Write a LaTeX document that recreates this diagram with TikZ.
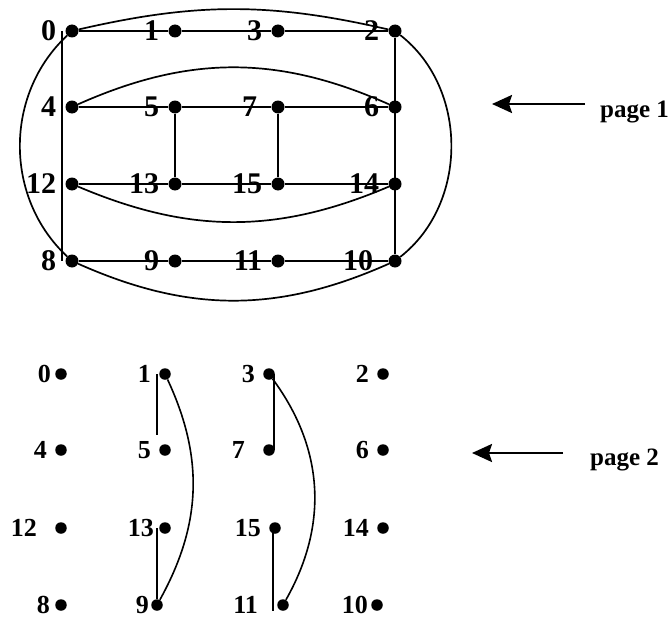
\documentclass[tikz,border=0pt]{standalone}
\usepackage{fontspec}
\setmainfont{Liberation Serif}
\usetikzlibrary{positioning,arrows.meta}

\tikzset{
  dot/.style={circle,fill,inner sep=0pt,minimum size=13pt},
  sdot/.style={circle,fill,inner sep=0pt,minimum size=11.5pt},
  num/.style={inner sep=0pt,xshift=-9pt,font=\fontsize{30}{32}\selectfont\bfseries},
  snum/.style={inner sep=0pt,xshift=-8pt,font=\fontsize{26}{28}\selectfont\bfseries},
  page/.style={inner sep=0pt,anchor=base west,font=\fontsize{25}{27}\selectfont\bfseries},
  wire/.style={line width=2pt},
  arc/.style={line width=1.7pt},
  swire/.style={line width=1.6pt},
  ptr/.style={line width=2.5pt,-{Stealth[length=20pt,width=18pt,inset=3pt]}}
}

\begin{document}
\begin{tikzpicture}[on grid,node distance=77pt]
  \useasboundingbox (0,0) rectangle (672pt,-618pt);

  \node[dot,label={[num]left:0}] (a0) at (72pt,-31pt) {};
  \node[dot,label={[num]left:1}] (a1) [right=103pt of a0] {};
  \node[dot,label={[num]left:3}] (a3) [right=103pt of a1] {};
  \node[dot,label={[num]left:2}] (a2) [right=117pt of a3] {};
  \node[dot,label={[num]left:4}] (a4) [below=76pt of a0] {};
  \node[dot,label={[num]left:5}] (a5) [below=76pt of a1] {};
  \node[dot,label={[num,xshift=-5pt]left:7}] (a7) [below=76pt of a3] {};
  \node[dot,label={[num]left:6}] (a6) [below=76pt of a2] {};
  \node[dot,label={[num]left:12}] (a12) [below=of a4] {};
  \node[dot,label={[num]left:13}] (a13) [below=of a5] {};
  \node[dot,label={[num]left:15}] (a15) [below=of a7] {};
  \node[dot,label={[num]left:14}] (a14) [below=of a6] {};
  \node[dot,label={[num]left:8}] (a8) [below=of a12] {};
  \node[dot,label={[num]left:9}] (a9) [below=of a13] {};
  \node[dot,label={[num]left:11}] (a11) [below=of a15] {};
  \node[dot,label={[num,xshift=-6pt]left:10}] (a10) [below=of a14] {};

  \draw[wire] (a0) -- (a1) -- (a3) -- (a2)
              (a4) -- (a5) -- (a7) -- (a6)
              (a12) -- (a13) -- (a15) -- (a14)
              (a8) -- (a9) -- (a11) -- (a10);
  \draw[wire] ([xshift=-3pt]a0.west) -- ([xshift=-3pt]a8.west)
              (a2) -- (a10)
              (a5) -- (a13)
              (a7) -- (a15);
  \draw[arc] (a0) to[bend left=13] (a2)
             (a4) to[bend left=24] (a6)
             (a12) to[bend right=23] (a14)
             (a8) to[bend right=24] (a10)
             (a0) to[bend right=47] (a8)
             (a2) to[bend left=52] (a10);

  \node[page] (pg1) at (600pt,-117pt) {page 1};
  \coordinate (tip1) at (492pt,-104pt);
  \draw[ptr] ([xshift=-15pt,yshift=13pt]pg1.base west) -- (tip1);

  \node[sdot,label={[snum,xshift=4pt]left:0}] (b0) at (61pt,-374pt) {};
  \node[sdot,label={[snum]left:1}] (b1) [right=104pt of b0] {};
  \node[sdot,label={[snum]left:3}] (b3) [right=104pt of b1] {};
  \node[sdot,label={[snum]left:2}] (b2) [right=114pt of b3] {};
  \node[sdot,label={[snum]left:4}] (b4) [below=76pt of b0] {};
  \node[sdot,label={[snum]left:5}] (b5) [below=76pt of b1] {};
  \node[sdot,label={[snum,xshift=-10pt]left:7}] (b7) [below=76pt of b3] {};
  \node[sdot,label={[snum]left:6}] (b6) [below=76pt of b2] {};
  \node[sdot,label={[snum,xshift=-10pt]left:12}] (b12) [below=78pt of b4] {};
  \node[sdot,label={[snum,xshift=3pt]left:13}] (b13) [below=78pt of b5] {};
  \node[sdot,label={[snum]left:15}] (b15) [below=78pt of b7,xshift=6pt] {};
  \node[sdot,label={[snum]left:14}] (b14) [below=78pt of b6] {};
  \node[sdot,label={[snum,xshift=3pt]left:8}] (b8) [below=of b12] {};
  \node[sdot,label={[snum,xshift=6pt]left:9}] (b9) [below=of b13,xshift=-8pt] {};
  \node[sdot,label={[snum,xshift=-11pt]left:11}] (b11) [below=of b15,xshift=8pt] {};
  \node[sdot,label={[snum,xshift=5pt]left:10}] (b10) [below=of b14,xshift=-6pt] {};

  \draw[swire] ([xshift=-8pt]b1.center) -- ([xshift=-8pt,yshift=15pt]b5.center)
               ([xshift=-8pt]b13.center) -- (b9.north)
               ([xshift=5pt]b3.center) -- ([xshift=5pt]b7.center)
               ([xshift=-2pt]b15.center) -- ([xshift=-10pt]b11.south);
  \draw[swire] (b1) to[bend left=27] (b9)
               (b3) to[bend left=33] (b11);

  \node[page] (pg2) at (590pt,-465pt) {page 2};
  \coordinate (tip2) at (472pt,-453pt);
  \draw[ptr] ([xshift=-27pt,yshift=12pt]pg2.base west) -- (tip2);
\end{tikzpicture}
\end{document}
